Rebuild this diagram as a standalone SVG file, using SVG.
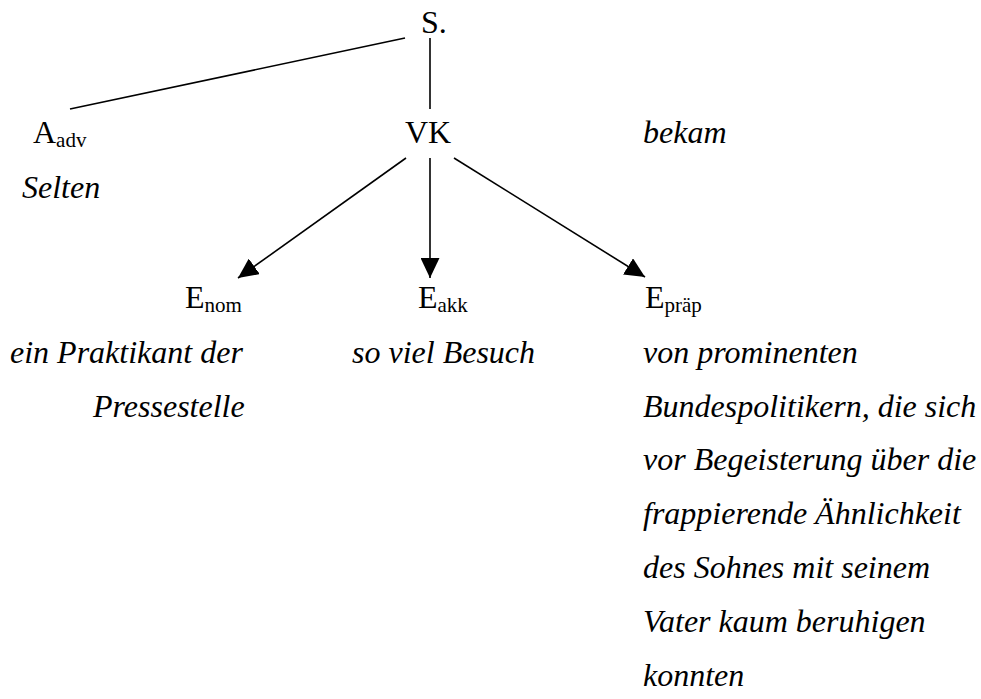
<svg xmlns="http://www.w3.org/2000/svg" width="981" height="699" viewBox="0 0 981 699">
<style>
text{font-family:"Liberation Serif","Times New Roman",serif;font-size:32px;fill:#000}
.i{font-style:italic}
.sub{font-size:21px}
.c{stroke:#000;stroke-width:1.6;fill:none}
</style>
<defs>
<marker id="ah" viewBox="0 0 20 19" markerWidth="20" markerHeight="19" refX="20" refY="9.5" orient="auto" markerUnits="userSpaceOnUse">
<path d="M0,0 L20,9.5 L0,19 z" fill="#000"/>
</marker>
</defs>
<rect width="981" height="699" fill="#fff"/>
<g id="connectors">
<line class="c" x1="405" y1="38" x2="70" y2="109"/>
<line class="c" x1="430" y1="38" x2="430" y2="109"/>
<line class="c" x1="406" y1="158" x2="238" y2="278" marker-end="url(#ah)"/>
<line class="c" x1="430" y1="158" x2="430" y2="278" marker-end="url(#ah)"/>
<line class="c" x1="454" y1="158" x2="645" y2="277" marker-end="url(#ah)"/>
</g>
<g id="S"><text x="421" y="33">S.</text></g>
<g id="Aadv"><text x="33" y="143">A<tspan class="sub" dy="4">adv</tspan></text>
<text class="i" x="22" y="198">Selten</text></g>
<g id="VK"><text x="405" y="143">VK</text>
<text class="i" x="643" y="143">bekam</text></g>
<g id="Enom"><text x="185" y="308">E<tspan class="sub" dy="4">nom</tspan></text>
<text class="i" x="10" y="363">ein Praktikant der</text>
<text class="i" x="93" y="417">Pressestelle</text></g>
<g id="Eakk"><text x="418" y="308">E<tspan class="sub" dy="4">akk</tspan></text>
<text class="i" x="352" y="363">so viel Besuch</text></g>
<g id="Epraep"><text x="645" y="308">E<tspan class="sub" dy="4">präp</tspan></text>
<text class="i" x="643" y="363">von prominenten</text>
<text class="i" x="643" y="417">Bundespolitikern, die sich</text>
<text class="i" x="643" y="470">vor Begeisterung über die</text>
<text class="i" x="643" y="524">frappierende Ähnlichkeit</text>
<text class="i" x="643" y="578">des Sohnes mit seinem</text>
<text class="i" x="643" y="632">Vater kaum beruhigen</text>
<text class="i" x="643" y="686">konnten</text></g>
</svg>
